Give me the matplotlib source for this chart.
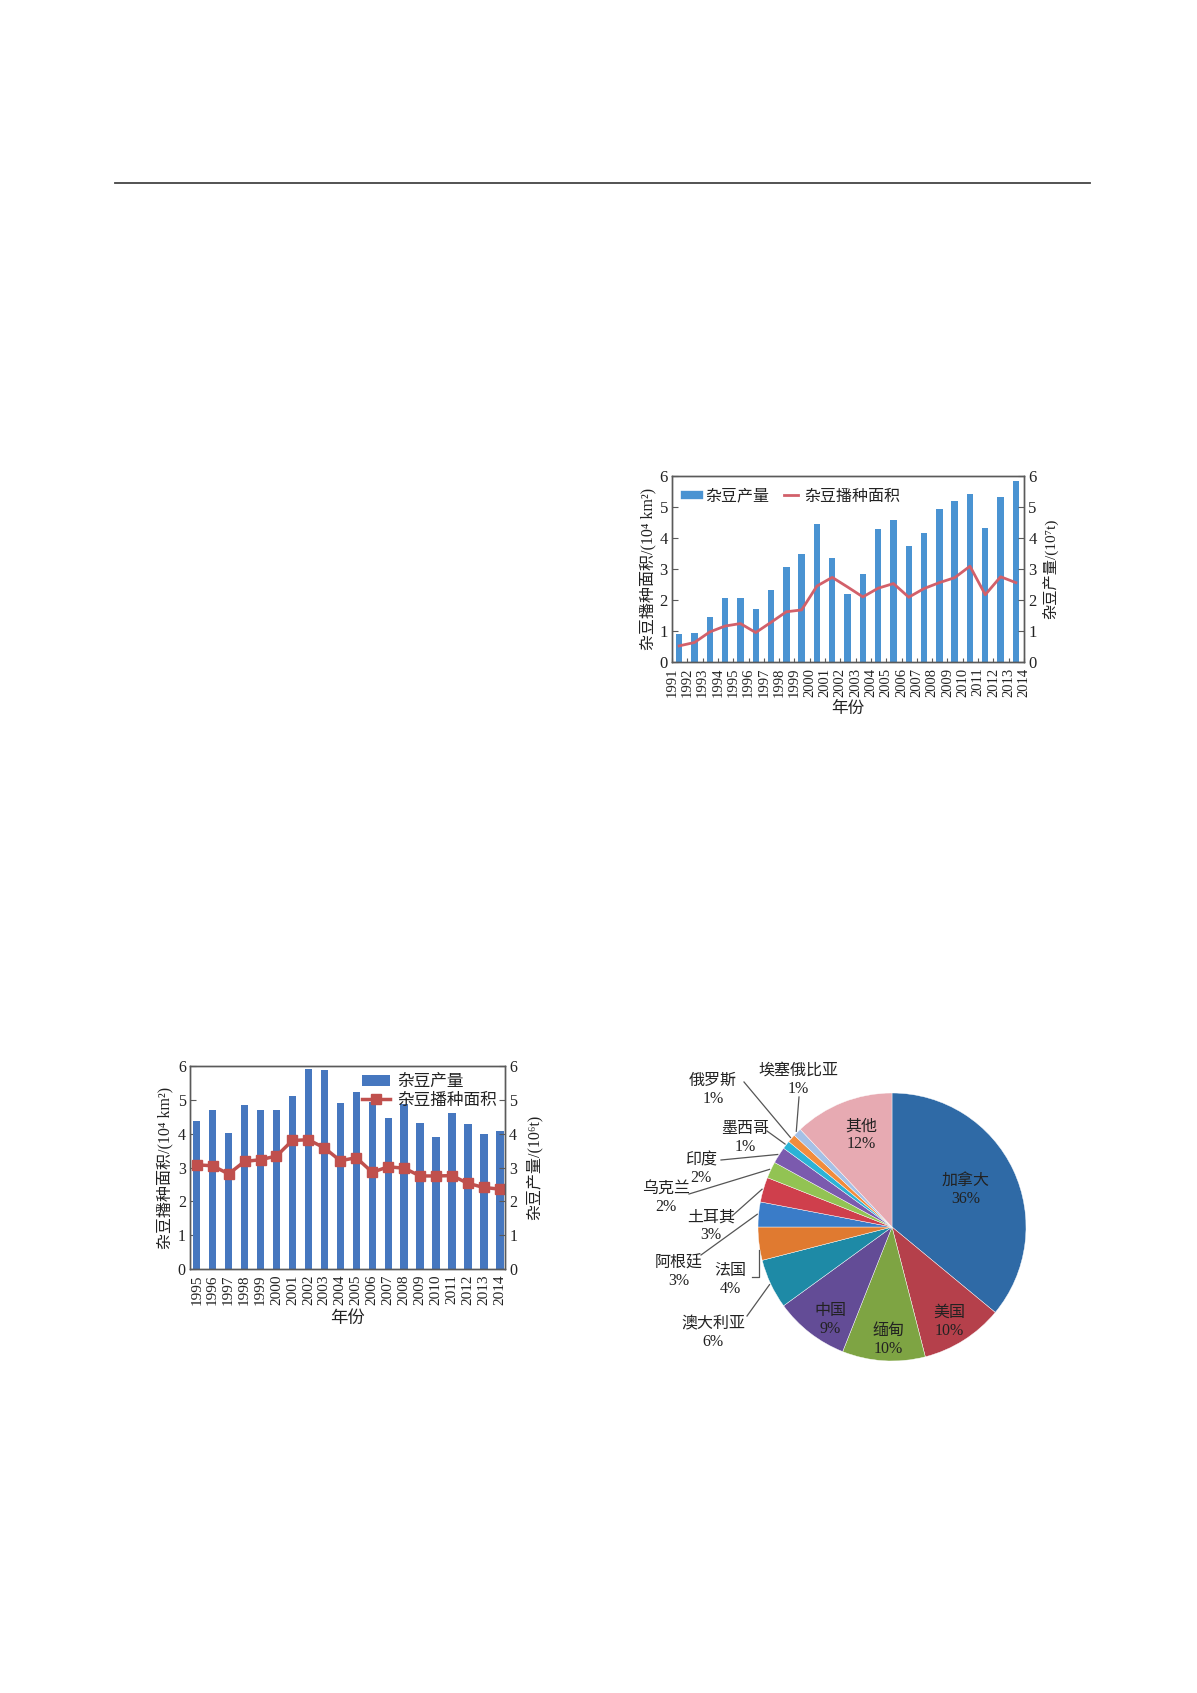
import numpy as np
import matplotlib
matplotlib.use('Agg')
import matplotlib.pyplot as plt
from matplotlib.lines import Line2D
from matplotlib.patches import Patch

plt.rcParams['font.family'] = ['Liberation Serif', 'Noto Sans CJK SC', 'DejaVu Sans']

W, H = 1197, 1693

# %% data: chart A (1991-2014)
years_a = list(range(1991, 2015))
output_a = [0.89, 0.93, 1.45, 2.05, 2.07, 1.71, 2.31, 3.07, 3.47, 4.45, 3.37, 2.19,
            2.83, 4.29, 4.58, 3.74, 4.16, 4.95, 5.18, 5.41, 4.32, 5.31, 5.84]
area_a = [0.52, 0.63, 0.97, 1.16, 1.24, 0.95, 1.28, 1.62, 1.68, 2.45, 2.73, 2.42,
          2.10, 2.38, 2.53, 2.09, 2.37, 2.56, 2.72, 3.09, 2.17, 2.75, 2.56]

# %% data: chart B (1995-2014)
years_b = list(range(1995, 2015))
output_b = [4.37, 4.69, 4.02, 4.84, 4.70, 4.69, 5.12, 5.91, 5.87, 4.91,
            5.23, 4.94, 4.47, 4.87, 4.32, 3.89, 4.60, 4.29, 3.99, 4.09]
area_b = [3.08, 3.05, 2.81, 3.18, 3.23, 3.34, 3.80, 3.82, 3.58, 3.20,
          3.29, 2.86, 3.02, 2.98, 2.75, 2.75, 2.76, 2.53, 2.41, 2.36]

# %% data: pie
countries = ['加拿大', '美国', '缅甸', '中国', '澳大利亚', '法国', '阿根廷', '土耳其',
             '乌克兰', '印度', '墨西哥', '俄罗斯', '埃塞俄比亚', '其他']
shares = [36, 10, 10, 9, 6, 4, 3, 3, 2, 2, 1, 1, 1, 12]
pie_colors = ['#2f6aa6', '#b5404b', '#7ea443', '#634c96', '#1e8aa6', '#e07a30', '#3a7cc8',
              '#cf3f4c', '#92c353', '#7b5aae', '#2bb3d6', '#f28c3c', '#a4c0e6', '#e7aab2']

# label positions in page pixels, leader start points (None = label inside)
label_pos = [(966, 1190), (949, 1322), (888, 1340), (830, 1320), (713, 1333),
             (730, 1280), (679, 1272), (711, 1226), (666, 1198), (701, 1169),
             (745, 1138), (713, 1090), (798, 1080), (861, 1135)]
leader_from = [None, None, None, None, (747, 1316), None, (701, 1255), (732, 1216),
               (689, 1194), (721, 1160), (767, 1131), (744, 1082), (799, 1097), None]

TXT = '#222222'
SPINE = '#5a5a5a'


def Y(y):
    return H - y


fig = plt.figure(figsize=(W / 100, H / 100), dpi=100)


def style_axes(ax, ax2, fs):
    for a in (ax, ax2):
        for s in a.spines.values():
            s.set_color(SPINE)
            s.set_linewidth(1.0)
        a.tick_params(axis='y', direction='in', length=4, width=0.8, color=SPINE,
                      labelsize=fs, labelcolor=TXT, pad=3)
        a.tick_params(axis='x', direction='in', length=3, width=0.8, color=SPINE,
                      labelcolor=TXT, pad=4)
        a.set_ylim(0, 6)
        a.set_yticks(range(7))


# %% chart A
axA = fig.add_axes([672 / W, 1 - 662 / H, 352 / W, 186 / H])
axA2 = axA.twinx()
xa = np.arange(len(output_a)) + 0.47
axA.bar(xa, output_a, width=0.42, color='#4a93d2', zorder=2)
axA.plot(xa, area_a, color='#d2606a', lw=2, zorder=3)
axA.set_xlim(0, len(years_a) - 1)
axA.set_xticks(range(len(years_a)))
axA.set_xticklabels([str(y) for y in years_a], rotation=90, fontsize=10.5, color=TXT)
style_axes(axA, axA2, 12)
axA.set_ylabel('杂豆播种面积/(10⁴ km²)', fontsize=11.5, color=TXT, labelpad=2)
axA2.set_ylabel('杂豆产量/(10⁷t)', fontsize=11, color=TXT, rotation=90, labelpad=4)
axA.set_xlabel('年份', fontsize=12, color=TXT, labelpad=3)
axA.legend([Line2D([], [], color='#4a93d2', lw=6), Line2D([], [], color='#d2606a', lw=2)],
           ['杂豆产量', '杂豆播种面积'], loc='upper left', ncol=2, frameon=False,
           fontsize=11.5, handlelength=0.9, handletextpad=0.4, columnspacing=0.9,
           borderaxespad=0.4, labelcolor=TXT)

# %% chart B
axB = fig.add_axes([190 / W, 1 - 1269 / H, 315 / W, 203 / H])
axB2 = axB.twinx()
xb = np.arange(len(years_b))
axB.bar(xb, output_b, width=0.46, color='#4677bf', zorder=2)
axB.plot(xb, area_b, color='#c0504d', lw=2.5, marker='s', ms=7, zorder=3)
axB.set_xlim(-0.42, len(years_b) - 0.68)
axB.set_xticks(xb)
axB.set_xticklabels([str(y) for y in years_b], rotation=90, fontsize=11, color=TXT)
style_axes(axB, axB2, 11.5)
axB.set_ylabel('杂豆播种面积/(10⁴ km²)', fontsize=11.5, color=TXT, labelpad=3)
axB2.set_ylabel('杂豆产量/(10⁶t)', fontsize=11.5, color=TXT, rotation=90, labelpad=6)
axB.set_xlabel('年份', fontsize=12.5, color=TXT, labelpad=4)
axB.legend([Patch(facecolor='#4677bf'), Line2D([], [], color='#c0504d', lw=2.5, marker='s', ms=7)],
           ['杂豆产量', '杂豆播种面积'], loc='upper right', frameon=False,
           fontsize=12, handlelength=1.7, handletextpad=0.4, labelspacing=0.15,
           borderaxespad=0.1, labelcolor=TXT)

# %% overlay: rule line and pie
ov = fig.add_axes([0, 0, 1, 1])
ov.plot([115, 1090], [Y(183), Y(183)], color='#444444', lw=1.3)
wedges, _ = ov.pie(shares, colors=pie_colors, startangle=90, counterclock=False,
                   center=(892, Y(1227)), radius=134,
                   wedgeprops=dict(edgecolor='white', linewidth=0.3))
ov.set_xlim(0, W)
ov.set_ylim(0, H)
ov.set_aspect('equal')
ov.axis('off')

for name, v, pos, lf, w in zip(countries, shares, label_pos, leader_from, wedges):
    ov.text(pos[0], Y(pos[1]), f'{name}\n{v}%', ha='center', va='center',
            fontsize=11.5, color=TXT, linespacing=1.15)
    if lf is not None:
        mid = np.deg2rad((w.theta1 + w.theta2) / 2)
        ex = w.center[0] + w.r * 1.01 * np.cos(mid)
        ey = w.center[1] + w.r * 1.01 * np.sin(mid)
        ov.plot([lf[0], ex], [Y(lf[1]), ey], color='#555555', lw=0.9)

# bracket leader for 法国
ov.plot([752, 759, 759], [Y(1277), Y(1277), Y(1250)], color='#555555', lw=0.9)

fig.savefig('out.png', dpi=100)
